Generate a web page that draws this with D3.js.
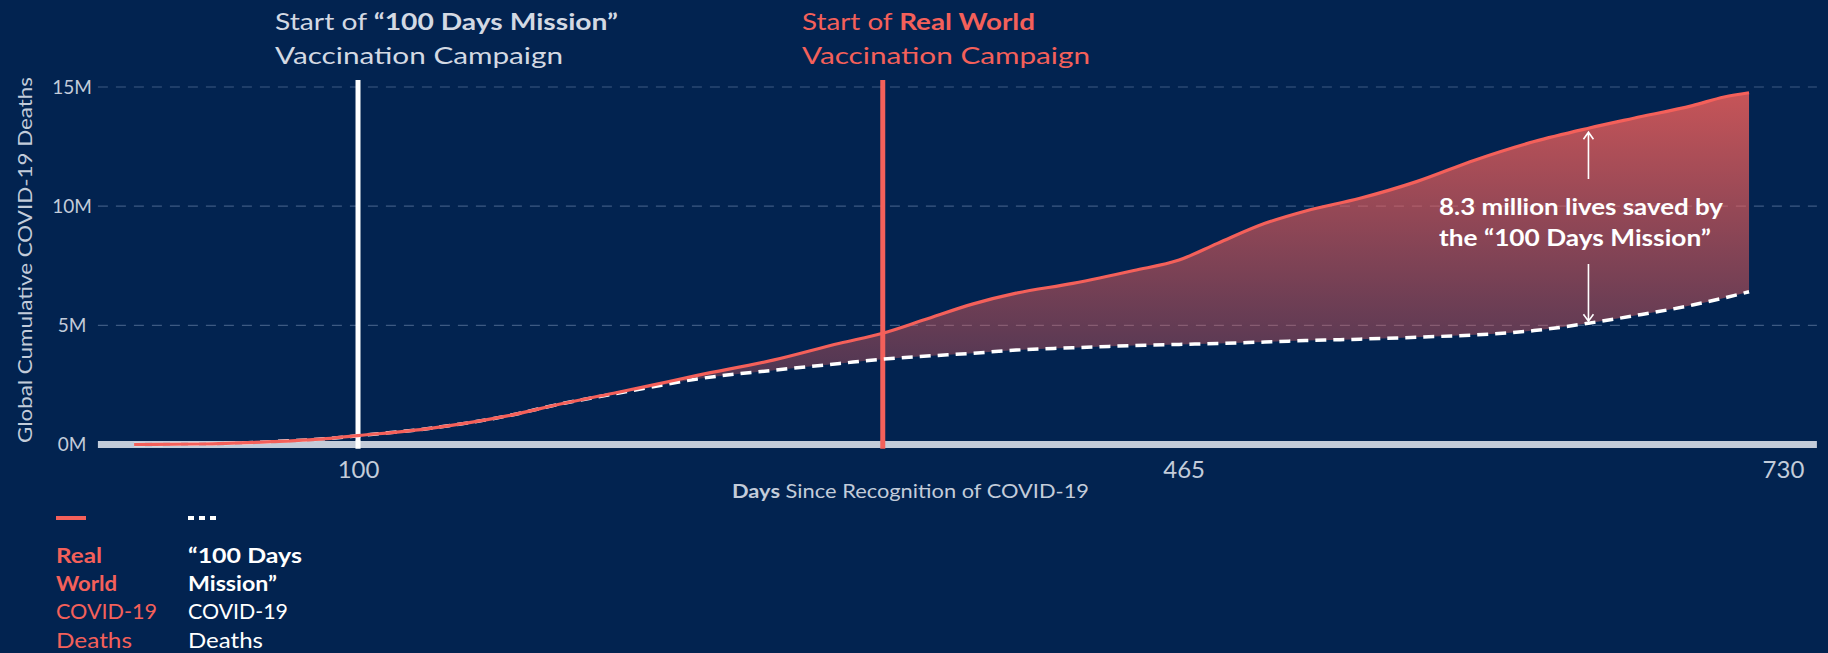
<!DOCTYPE html>
<html>
<head>
<meta charset="utf-8">
<script src="https://cdn.jsdelivr.net/npm/d3@7"></script>
<style>
  html, body { margin: 0; padding: 0; background: #022350; }
  svg { display: block; font-family: Lato, "Noto Sans", sans-serif; }
</style>
</head>
<body>
<svg id="chart" width="1828" height="653"></svg>
<script>
// Days since recognition of COVID-19
const days = [1, 30, 62, 88, 100, 132, 166, 191, 213, 228, 250, 284, 313, 332, 350, 372, 391, 416, 443, 463, 480, 501, 519, 543, 568, 594, 620, 644, 664, 690, 704, 715];
// Global cumulative deaths, millions
const realWorldDeaths = [0, 0.02, 0.12, 0.26, 0.37, 0.68, 1.2, 1.73, 2.15, 2.45, 2.9, 3.55, 4.25, 4.67, 5.22, 5.9, 6.35, 6.76, 7.3, 7.74, 8.44, 9.28, 9.8, 10.33, 11.03, 11.94, 12.71, 13.27, 13.69, 14.22, 14.58, 14.76];
const missionDeaths   = [0, 0.02, 0.12, 0.26, 0.37, 0.68, 1.2, 1.73, 2.12, 2.38, 2.75, 3.12, 3.4, 3.58, 3.7, 3.83, 3.96, 4.06, 4.15, 4.2, 4.24, 4.3, 4.36, 4.42, 4.5, 4.6, 4.78, 5.09, 5.4, 5.85, 6.15, 6.41];

const yTicks = [0, 5, 10, 15];
const xTicks = [100, 465, 730];
const missionStartDay = 100;
const realStartDay = 332;
const savedLabelDay = 644;

const RED = "#f4605a";
const AXIS = "#c3ccda";
const GRID = "#3d5a82";

const svg = d3.select("#chart");

// the typeface is stretched a little to keep its wide, geometric proportions
function fit(sel, width) {
  return sel.attr("textLength", width).attr("lengthAdjust", "spacingAndGlyphs");
}

const x = d3.scaleLinear().domain([-15, 745]).range([97.9, 1816.9]);
const y = d3.scaleLinear().domain([0, 15]).range([444.5, 87]);

// gradient for the gap between the two curves
const defs = svg.append("defs");
const grad = defs.append("linearGradient")
  .attr("id", "savedFill")
  .attr("gradientUnits", "userSpaceOnUse")
  .attr("x1", 0).attr("x2", 0)
  .attr("y1", y(15)).attr("y2", y(0));
grad.append("stop").attr("offset", 0).attr("stop-color", RED).attr("stop-opacity", 0.82);
grad.append("stop").attr("offset", 1).attr("stop-color", RED).attr("stop-opacity", 0.2);

// horizontal grid
svg.append("g")
  .selectAll("line")
  .data(yTicks.filter(d => d > 0))
  .join("line")
  .attr("x1", x(-15)).attr("x2", x(745))
  .attr("y1", d => y(d)).attr("y2", d => y(d))
  .attr("stroke", GRID)
  .attr("stroke-width", 1.2)
  .attr("stroke-dasharray", "10,8");

// y axis labels, centred in the left margin
const yAxis = svg.append("g")
  .attr("transform", "translate(72,0)")
  .call(d3.axisLeft(y).tickValues(yTicks).tickFormat(d => d + "M").tickSize(0).tickPadding(0));
yAxis.select(".domain").remove();
yAxis.selectAll("text")
  .attr("text-anchor", "middle")
  .attr("fill", AXIS)
  .style("font-size", "19px")
  .style("font-family", "Lato, sans-serif");

// y axis title
fit(svg.append("text")
  .attr("transform", `translate(32,260) rotate(-90)`)
  .attr("text-anchor", "middle")
  .attr("fill", AXIS)
  .style("font-size", "20px")
  .text("Global Cumulative COVID-19 Deaths"), 366);

// vaccination start markers
svg.append("line")
  .attr("x1", x(missionStartDay)).attr("x2", x(missionStartDay))
  .attr("y1", 80).attr("y2", y(0) + 4)
  .attr("stroke", "#ffffff").attr("stroke-width", 5);
svg.append("line")
  .attr("x1", x(realStartDay)).attr("x2", x(realStartDay))
  .attr("y1", 80).attr("y2", y(0) + 4)
  .attr("stroke", RED).attr("stroke-width", 5);

// x axis baseline
svg.append("line")
  .attr("x1", x(-15)).attr("x2", x(745))
  .attr("y1", y(0)).attr("y2", y(0))
  .attr("stroke", AXIS).attr("stroke-width", 7);

// marker stubs across the baseline
svg.append("line")
  .attr("x1", x(missionStartDay)).attr("x2", x(missionStartDay))
  .attr("y1", y(0) - 4).attr("y2", y(0) + 4)
  .attr("stroke", "#ffffff").attr("stroke-width", 5);
svg.append("line")
  .attr("x1", x(realStartDay)).attr("x2", x(realStartDay))
  .attr("y1", y(0) - 4).attr("y2", y(0) + 4)
  .attr("stroke", RED).attr("stroke-width", 5);

const series = days.map((d, i) => ({ day: d, real: realWorldDeaths[i], mission: missionDeaths[i] }));

// lives saved area
svg.append("path")
  .datum(series)
  .attr("d", d3.area().x(d => x(d.day)).y0(d => y(d.mission)).y1(d => y(d.real)).curve(d3.curveMonotoneX))
  .attr("fill", "url(#savedFill)");

// "100 Days Mission" counterfactual
svg.append("path")
  .datum(series)
  .attr("d", d3.line().x(d => x(d.day)).y(d => y(d.mission)).curve(d3.curveMonotoneX))
  .attr("fill", "none")
  .attr("stroke", "#ffffff")
  .attr("stroke-width", 3.5)
  .attr("stroke-dasharray", "11,7");

// real world deaths
svg.append("path")
  .datum(series)
  .attr("d", d3.line().x(d => x(d.day)).y(d => y(d.real)).curve(d3.curveMonotoneX))
  .attr("fill", "none")
  .attr("stroke", RED)
  .attr("stroke-width", 3.2);

// x axis labels
const xAxis = svg.append("g")
  .attr("transform", `translate(0,${y(0)})`)
  .call(d3.axisBottom(x).tickValues(xTicks).tickSize(0).tickPadding(16));
xAxis.select(".domain").remove();
xAxis.selectAll("text")
  .attr("fill", AXIS)
  .style("font-size", "24px")
  .style("font-family", "Lato, sans-serif");

// x axis title
const xTitle = fit(svg.append("text")
  .attr("x", 732).attr("y", 498)
  .attr("fill", AXIS)
  .style("font-size", "19px"), 357);
xTitle.append("tspan").attr("font-weight", 700).text("Days");
xTitle.append("tspan").text(" Since Recognition of COVID-19");

// marker headings
const h1 = fit(svg.append("text").attr("x", 275).attr("y", 30).attr("fill", "#d3d9e3").style("font-size", "23px"), 343);
h1.append("tspan").text("Start of ");
h1.append("tspan").attr("font-weight", 700).text("“100 Days Mission”");
fit(svg.append("text").attr("x", 275).attr("y", 64).attr("fill", "#d3d9e3").style("font-size", "23px")
  .text("Vaccination Campaign"), 288);

const h2 = fit(svg.append("text").attr("x", 802).attr("y", 30).attr("fill", RED).style("font-size", "23px"), 233);
h2.append("tspan").text("Start of ");
h2.append("tspan").attr("font-weight", 700).text("Real World");
fit(svg.append("text").attr("x", 802).attr("y", 64).attr("fill", RED).style("font-size", "23px")
  .text("Vaccination Campaign"), 288);

// lives saved annotation
const ai = days.indexOf(savedLabelDay);
const ax = x(savedLabelDay);
const topTip = y(realWorldDeaths[ai]) + 4;
const botTip = y(missionDeaths[ai]) - 2;
const arrows = svg.append("g").attr("stroke", "#ffffff").attr("stroke-width", 1.6).attr("fill", "none");
arrows.append("path").attr("d", `M${ax},179 L${ax},${topTip} M${ax - 5},${topTip + 7} L${ax},${topTip} L${ax + 5},${topTip + 7}`);
arrows.append("path").attr("d", `M${ax},264 L${ax},${botTip} M${ax - 5},${botTip - 7} L${ax},${botTip} L${ax + 5},${botTip - 7}`);

const noteLines = [
  { text: "8.3 million lives saved by", y: 215, w: 284 },
  { text: "the “100 Days Mission”", y: 246, w: 272 }
];
svg.append("g").selectAll("text").data(noteLines).join("text")
  .attr("x", 1439).attr("y", d => d.y)
  .attr("textLength", d => d.w).attr("lengthAdjust", "spacingAndGlyphs")
  .attr("fill", "#ffffff").attr("font-weight", 700)
  .style("font-size", "22px")
  .text(d => d.text);

// legend
svg.append("line").attr("x1", 56).attr("x2", 86).attr("y1", 518).attr("y2", 518)
  .attr("stroke", RED).attr("stroke-width", 4);
svg.append("line").attr("x1", 188).attr("x2", 218).attr("y1", 518).attr("y2", 518)
  .attr("stroke", "#ffffff").attr("stroke-width", 4).attr("stroke-dasharray", "6,5");

const legendReal = [
  { text: "Real", bold: true, w: 46 },
  { text: "World", bold: true, w: 61 },
  { text: "COVID-19", bold: false, w: 101 },
  { text: "Deaths", bold: false, w: 76 }
];
const legendMission = [
  { text: "“100 Days", bold: true, w: 114 },
  { text: "Mission”", bold: true, w: 89 },
  { text: "COVID-19", bold: false, w: 100 },
  { text: "Deaths", bold: false, w: 75 }
];
svg.append("g").selectAll("text").data(legendReal).join("text")
  .attr("x", 56).attr("y", (d, i) => 563 + i * 28.2)
  .attr("textLength", d => d.w).attr("lengthAdjust", "spacingAndGlyphs")
  .attr("fill", RED).attr("font-weight", d => d.bold ? 700 : 400)
  .style("font-size", "21px").text(d => d.text);
svg.append("g").selectAll("text").data(legendMission).join("text")
  .attr("x", 188).attr("y", (d, i) => 563 + i * 28.2)
  .attr("textLength", d => d.w).attr("lengthAdjust", "spacingAndGlyphs")
  .attr("fill", "#ffffff").attr("font-weight", d => d.bold ? 700 : 400)
  .style("font-size", "21px").text(d => d.text);
</script>
</body>
</html>
